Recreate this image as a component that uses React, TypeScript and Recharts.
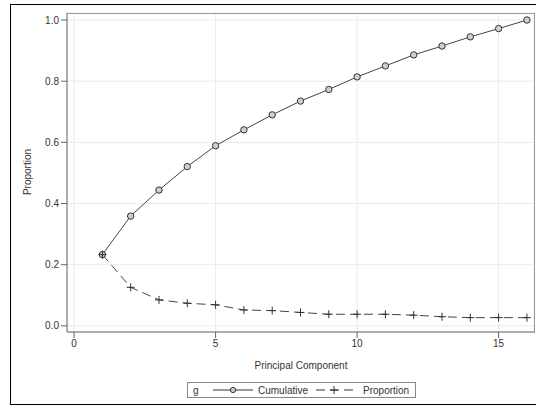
import React from 'react';
import {
  LineChart, Line, XAxis, YAxis, CartesianGrid,
} from 'recharts';

const components = [1, 2, 3, 4, 5, 6, 7, 8, 9, 10, 11, 12, 13, 14, 15, 16];
const cumulative = [0.233, 0.359, 0.444, 0.521, 0.589, 0.641, 0.690, 0.735, 0.773, 0.814, 0.850, 0.886, 0.915, 0.945, 0.972, 1.0];
const proportion = [0.233, 0.126, 0.085, 0.074, 0.069, 0.052, 0.050, 0.044, 0.038, 0.038, 0.038, 0.035, 0.030, 0.027, 0.027, 0.027];
const xTicks = [0, 5, 10, 15];
const yTicks = [0, 0.2, 0.4, 0.6, 0.8, 1.0];

const FONT = '"Liberation Sans", Arial, sans-serif';
const TEXT = '#333';

const data = components.map((c, i) => ({
  pc: c,
  cumulative: cumulative[i],
  proportion: proportion[i],
}));

function CircleDot(props: any) {
  const { cx, cy } = props;
  if (cx == null || cy == null) return null;
  return <circle cx={cx} cy={cy} r={3.2} fill="#cfcfcf" stroke="#333" strokeWidth={1} />;
}

function PlusDot(props: any) {
  const { cx, cy } = props;
  if (cx == null || cy == null) return null;
  return (
    <path
      d={`M${cx - 4},${cy}H${cx + 4}M${cx},${cy - 4}V${cy + 4}`}
      stroke="#333"
      strokeWidth={1}
      fill="none"
    />
  );
}

function LegendBox() {
  return (
    <div
      style={{
        position: 'absolute',
        left: 187,
        top: 382,
        display: 'flex',
        alignItems: 'center',
        border: '1px solid #888',
        height: 16,
        width: 229,
        fontFamily: FONT,
        fontSize: 10,
        color: TEXT,
        boxSizing: 'border-box',
      }}
    >
      <span style={{ marginLeft: 5, width: 20 }}>g</span>
      <svg width={40} height={12}>
        <line x1={0} y1={6} x2={40} y2={6} stroke="#333" strokeWidth={1} />
        <circle cx={20} cy={6} r={2.6} fill="#cfcfcf" stroke="#333" />
      </svg>
      <span style={{ marginLeft: 5 }}>Cumulative</span>
      <svg width={40} height={12} style={{ marginLeft: 7 }}>
        <line x1={0} y1={6} x2={40} y2={6} stroke="#333" strokeWidth={1} strokeDasharray="9 5" strokeDashoffset={-1} />
        <path d="M19,2V10M15,6H23" stroke="#333" />
      </svg>
      <span style={{ marginLeft: 8 }}>Proportion</span>
    </div>
  );
}

export default function App() {
  return (
    <div
      style={{
        position: 'absolute',
        left: 0,
        top: 0,
        width: 536,
        height: 406,
        background: '#fff',
        overflow: 'hidden',
        fontFamily: FONT,
      }}
    >
      {/* outer frame */}
      <div
        style={{
          position: 'absolute',
          left: 10,
          top: 4,
          width: 540,
          height: 401,
          border: '1px solid #000',
          boxSizing: 'border-box',
        }}
      />
      <LineChart
        width={536}
        height={406}
        data={data}
        margin={{ top: 13, right: 2, bottom: 44, left: 0 }}
        style={{ position: 'absolute', left: 0, top: 0 }}
      >
        <CartesianGrid stroke="#ebebeb" strokeWidth={1} />
        <XAxis
          dataKey="pc"
          type="number"
          domain={[-0.25, 16.25]}
          ticks={xTicks}
          allowDataOverflow
          height={30}
          tick={{ fill: TEXT, fontSize: 10, fontFamily: FONT }}
          tickSize={6}
          tickMargin={2}
          axisLine={{ stroke: '#666' }}
          tickLine={{ stroke: '#666' }}
        />
        <YAxis
          type="number"
          domain={[-0.02, 1.023]}
          ticks={yTicks}
          allowDataOverflow
          width={67}
          tickFormatter={(v: number) => v.toFixed(1)}
          tick={{ fill: TEXT, fontSize: 10, fontFamily: FONT }}
          tickSize={6}
          tickMargin={2}
          axisLine={{ stroke: '#666' }}
          tickLine={{ stroke: '#666' }}
        />
        <Line
          dataKey="cumulative"
          name="Cumulative"
          type="linear"
          stroke="#444"
          strokeWidth={1}
          dot={<CircleDot />}
          isAnimationActive={false}
        />
        <Line
          dataKey="proportion"
          name="Proportion"
          type="linear"
          stroke="#444"
          strokeWidth={1}
          strokeDasharray="9 5"
          dot={<PlusDot />}
          isAnimationActive={false}
        />
      </LineChart>
      {/* plot frame */}
      <div
        style={{
          position: 'absolute',
          left: 67,
          top: 13,
          width: 468,
          height: 320,
          borderTop: '1px solid #999',
          borderRight: '1px solid #999',
          boxSizing: 'border-box',
          pointerEvents: 'none',
        }}
      />
      <LegendBox />
      <div
        style={{
          position: 'absolute',
          left: 27,
          top: 172,
          transform: 'translate(-50%, -50%) rotate(-90deg)',
          fontSize: 10,
          color: TEXT,
          whiteSpace: 'nowrap',
        }}
      >
        Proportion
      </div>
      <div
        style={{
          position: 'absolute',
          left: 301,
          top: 365,
          transform: 'translate(-50%, -50%)',
          fontSize: 10,
          color: TEXT,
          whiteSpace: 'nowrap',
        }}
      >
        Principal Component
      </div>
    </div>
  );
}
